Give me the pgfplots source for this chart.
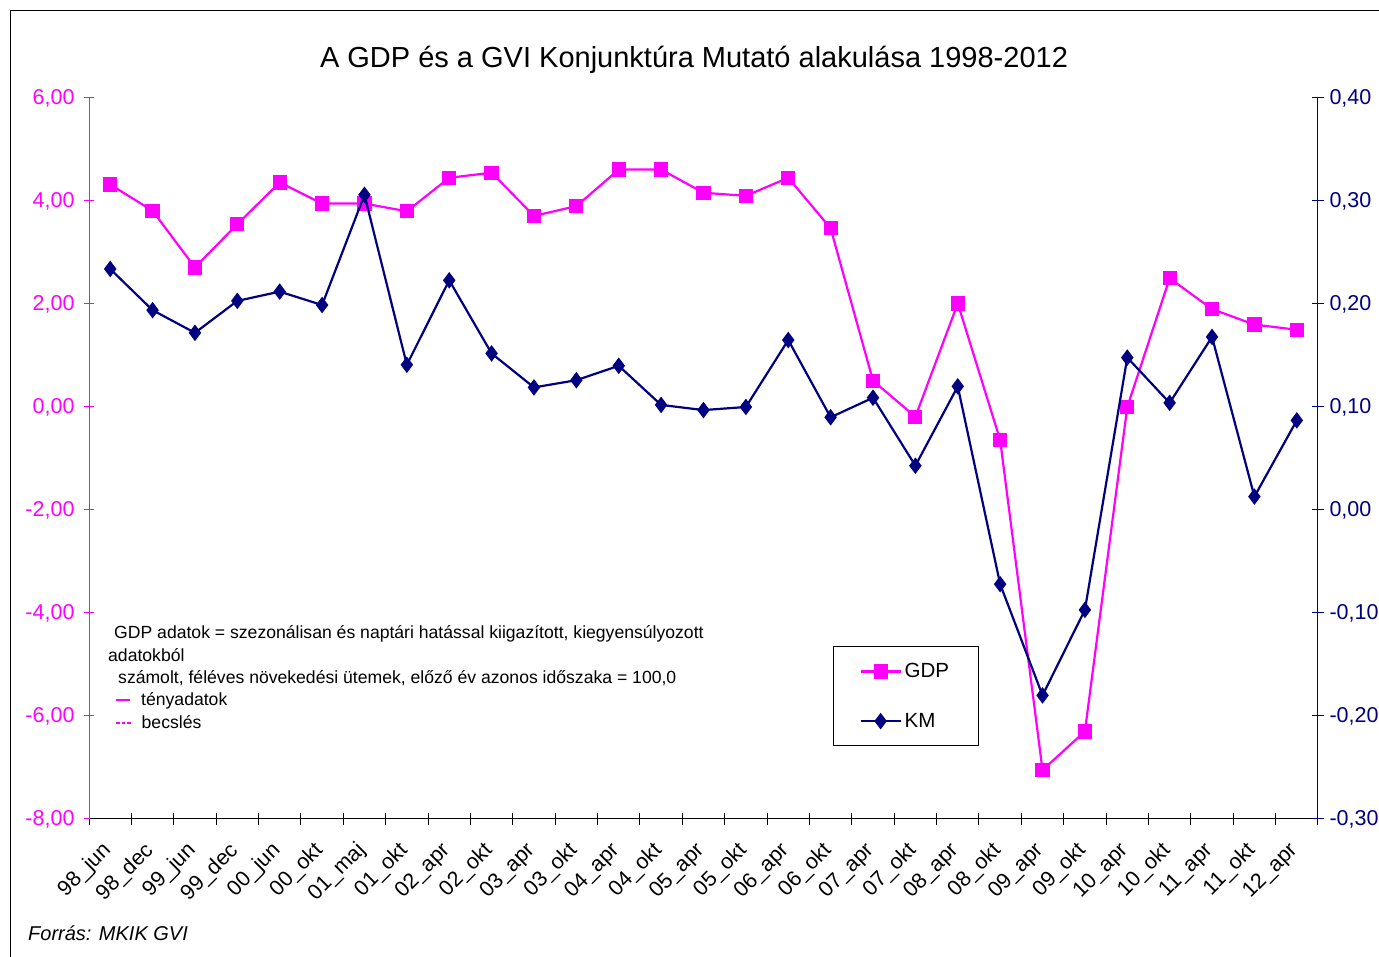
\documentclass[border=0pt]{standalone}
\usepackage{fontspec}
\setmainfont{Liberation Sans}
\usepackage{pgfplots}
\pgfplotsset{compat=1.18}
\definecolor{gdpmag}{RGB}{255,0,255}
\definecolor{kmnavy}{RGB}{0,0,128}

\pgfplotstableread{
x gdp km
0 4.32 0.234
1 3.81 0.194
2 2.71 0.172
3 3.55 0.203
4 4.36 0.212
5 3.95 0.199
6 3.95 0.306
7 3.80 0.141
8 4.45 0.223
9 4.55 0.152
10 3.71 0.119
11 3.90 0.126
12 4.61 0.140
13 4.61 0.102
14 4.16 0.097
15 4.10 0.100
16 4.45 0.165
17 3.47 0.090
18 0.51 0.109
19 -0.19 0.043
20 2.01 0.120
21 -0.64 -0.072
22 -7.05 -0.180
23 -6.30 -0.097
24 0.00 0.148
25 2.50 0.104
26 1.90 0.168
27 1.60 0.013
28 1.50 0.087
}\gdpkm

\newcommand{\tickfont}{\fontsize{21.5}{23}\selectfont}

\pgfplotsset{
  common/.style={
    at={(89pt,138pt)}, anchor=south west,
    scale only axis, width=1229pt, height=721pt,
    xmin=-0.5, xmax=28.5,
    /pgf/number format/.cd, fixed, fixed zerofill, precision=2, use comma,
      assume math mode=true, /pgfplots/.cd,
    tick label style={font=\tickfont},
  },
  linelegend/.style={
    legend image code/.code={\draw[mark repeat=2,mark phase=2,##1]
      plot coordinates {(0pt,0pt) (20pt,0pt) (40pt,0pt)};}
  },
}

\begin{document}
\begin{tikzpicture}[x=1pt,y=1pt]
\useasboundingbox (0,0) rectangle (1379,957);
\draw[line width=1pt] (10.5,0) -- (10.5,946.5) -- (1379,946.5);

% left axis: GDP
\begin{axis}[common,
  ymin=-8, ymax=6, ytick={-8,-6,...,6},
  axis x line*=bottom, axis y line*=left,
  axis line style={line width=1pt},
  y axis line style={gdpmag},
  x axis line style={black},
  xtick={0,...,28},
  xticklabels={98\_jun,98\_dec,99\_jun,99\_dec,00\_jun,00\_okt,01\_maj,01\_okt,
    02\_apr,02\_okt,03\_apr,03\_okt,04\_apr,04\_okt,05\_apr,05\_okt,06\_apr,06\_okt,
    07\_apr,07\_okt,08\_apr,08\_okt,09\_apr,09\_okt,10\_apr,10\_okt,11\_apr,11\_okt,12\_apr},
  minor xtick={-0.5,0.5,...,28.5},
  major x tick style={draw=none},
  minor x tick style={black, line width=1pt},
  minor tick length=12pt,
  y tick style={gdpmag, line width=1pt},
  major tick length=10pt,
  tick align=center,
  xticklabel style={rotate=45, anchor=east, font=\tickfont},
  xticklabel shift=21pt,
  yticklabel style={text=gdpmag, xshift=-6pt},
]
\addplot[gdpmag, line width=2.2pt, mark=square*, mark size=6pt]
  table[x=x, y=gdp] {\gdpkm};
\end{axis}

% right axis: KM
\begin{axis}[common, linelegend,
  ymin=-0.3, ymax=0.4, ytick={-0.3,-0.2,-0.1,0,0.1,0.2,0.3,0.4},
  axis x line=none, axis y line*=right,
  axis line style={kmnavy, line width=1pt},
  y tick style={kmnavy, line width=1pt},
  major tick length=12pt, tick align=center,
  yticklabel style={text=kmnavy, xshift=2pt},
  legend style={at={(rel axis cs:0.6054,0.2399)}, anchor=north west,
    draw=black, line width=1pt, fill=white, font=\fontsize{20.5}{22}\selectfont,
    inner xsep=26pt, inner ysep=14pt, row sep=28pt,
    nodes={inner sep=3pt}},
  legend cell align=left,
]
\addlegendimage{gdpmag, line width=2.2pt, mark=square*, mark size=6pt}
\addlegendentry{GDP}
\addplot[kmnavy, line width=2.2pt, mark=diamond*, mark size=6.5pt]
  table[x=x, y=km] {\gdpkm};
\addlegendentry{KM}
\end{axis}

\node[font=\fontsize{29}{31}\selectfont] at (694,897) {A GDP és a GVI Konjunktúra Mutató alakulása 1998-2012};

\begin{scope}[every node/.style={anchor=base west, inner sep=0pt, font=\fontsize{17.6}{19}\selectfont}]
\node at (114,318) {GDP adatok = szezonálisan és naptári hatással kiigazított, kiegyensúlyozott};
\node at (108,295) {adatokból};
\node at (118,273) {számolt, féléves növekedési ütemek, előző év azonos időszaka = 100,0};
\node at (116,251) {{\color{gdpmag}\rule[0.3em]{14pt}{1.5pt}}\hspace{11pt}tényadatok};
\node at (116,228) {{\color{gdpmag}\rule[0.3em]{3.5pt}{1.5pt}\hspace{2pt}\rule[0.3em]{3.5pt}{1.5pt}\hspace{2pt}\rule[0.3em]{3.5pt}{1.5pt}}\hspace{11pt}becslés};
\end{scope}

\node[anchor=base west, inner sep=0pt, font=\fontsize{20}{22}\selectfont\itshape] at (28,16) {Forrás: MKIK GVI};
\end{tikzpicture}
\end{document}
